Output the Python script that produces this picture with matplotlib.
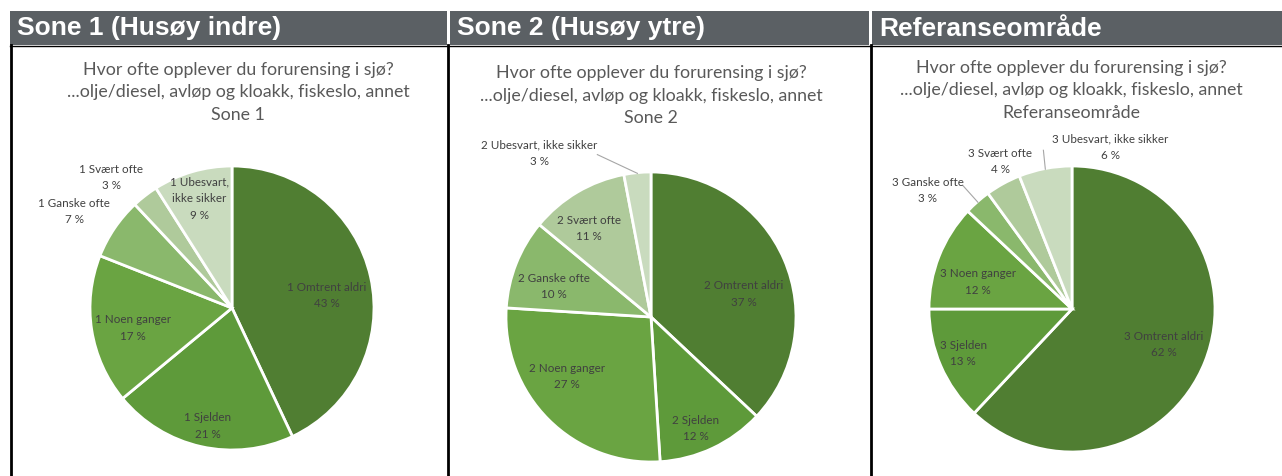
import matplotlib
matplotlib.use("Agg")
import matplotlib.pyplot as plt
import numpy as np

W, H = 1282, 476

# ---------------- data ----------------
categories = ["Omtrent aldri", "Sjelden", "Noen ganger", "Ganske ofte",
              "Svært ofte", "Ubesvart, ikke sikker"]
headers = ["Sone 1 (Husøy indre)", "Sone 2 (Husøy ytre)", "Referanseområde"]
subtitles = ["Sone 1", "Sone 2", "Referanseområde"]
prefixes = ["1", "2", "3"]
sone1 = [43, 21, 17, 7, 3, 9]
sone2 = [37, 12, 27, 10, 11, 3]
referanse = [62, 13, 12, 3, 4, 6]
series = [sone1, sone2, referanse]
title_lines = ["Hvor ofte opplever du forurensing i sjø?",
               "...olje/diesel, avløp og kloakk, fiskeslo, annet"]

# ---------------- style / layout ----------------
colors = ["#507e32", "#5e9a3a", "#6aa442", "#8ab86c", "#afca9b", "#c9dbbe"]
header_color = "#5b6064"
title_color = "#595959"
label_color = "#404040"
header_spans = [(10, 447), (450, 869), (872, 1282)]
pie_geom = [(232, 308, 142), (651, 317, 145), (1072, 309, 143)]
title_pos = [(238, 70), (651, 73), (1071, 68)]
title_step = 22.5
label_pos = [
    [(0.67, 0.09), (-0.17, -0.83), (-0.70, -0.14), (-1.11, 0.68), (-0.85, 0.92), (-0.23, 0.77)],
    [(0.64, 0.16), (0.31, -0.77), (-0.58, -0.41), (-0.67, 0.21), (-0.43, 0.61), (-0.77, 1.13)],
    [(0.64, -0.25), (-0.76, -0.31), (-0.66, 0.19), (-1.01, 0.83), (-0.50, 1.03), (0.27, 1.13)],
]
# leader lines: (pie index, category index, start point in radius units)
leaders = [(1, 5, (-0.37, 1.12)), (2, 5, (-0.20, 1.11)), (2, 3, (-0.76, 0.86))]
wrap_first = {(0, 5)}

fig = plt.figure(figsize=(W / 100, H / 100), dpi=100)
fig.patch.set_facecolor("white")

# background overlay in pixel coordinates
bg = fig.add_axes([0, 0, 1, 1])
bg.set_xlim(0, W)
bg.set_ylim(H, 0)
bg.axis("off")

for (x0, x1), txt in zip(header_spans, headers):
    bg.add_patch(plt.Rectangle((x0, 11), x1 - x0, 34, color=header_color, lw=0))
    bg.text(x0 + 7, 28.5, txt, color="white", fontsize=19, fontweight="bold",
            family="Liberation Sans", va="center", ha="left")
bg.plot([10, W], [45.5, 45.5], color="black", lw=1.0)
for x in (11, 447.5, 870.5):
    bg.plot([x, x], [45, H], color="black", lw=2.0)

for (tx, ty), sub in zip(title_pos, subtitles):
    for k, line in enumerate(title_lines + [sub]):
        bg.text(tx, ty + k * title_step, line, color=title_color, fontsize=12.8,
                family="Lato", ha="center", va="center")

for i, (vals, (cx, cy, R)) in enumerate(zip(series, pie_geom)):
    ax = fig.add_axes([(cx - R) / W, 1 - (cy + R) / H, 2 * R / W, 2 * R / H])
    wedges, _ = ax.pie(vals, colors=colors, startangle=90, counterclock=False,
                       radius=1.0, wedgeprops=dict(edgecolor="white", linewidth=2.0))
    ax.set_xlim(-1, 1)
    ax.set_ylim(-1, 1)
    ax.set_aspect("auto")
    ax.axis("off")
    for j, (cat, v) in enumerate(zip(categories, vals)):
        if (i, j) in wrap_first:
            name = f"{prefixes[i]} " + cat.replace(", ", ",\n")
        else:
            name = f"{prefixes[i]} {cat}"
        lx, ly = label_pos[i][j]
        ax.text(lx, ly, f"{name}\n{v} %", ha="center", va="center", fontsize=8.4,
                family="Lato", color=label_color, linespacing=1.6, clip_on=False)
    for (pi, cj, (sx, sy)) in leaders:
        if pi != i:
            continue
        w = wedges[cj]
        mid = np.deg2rad((w.theta1 + w.theta2) / 2)
        ex, ey = np.cos(mid) * 0.995, np.sin(mid) * 0.995
        ax.plot([sx, ex], [sy, ey], color="#a6a6a6", lw=0.8, clip_on=False)

fig.savefig("out.png", dpi=100, facecolor="white")
